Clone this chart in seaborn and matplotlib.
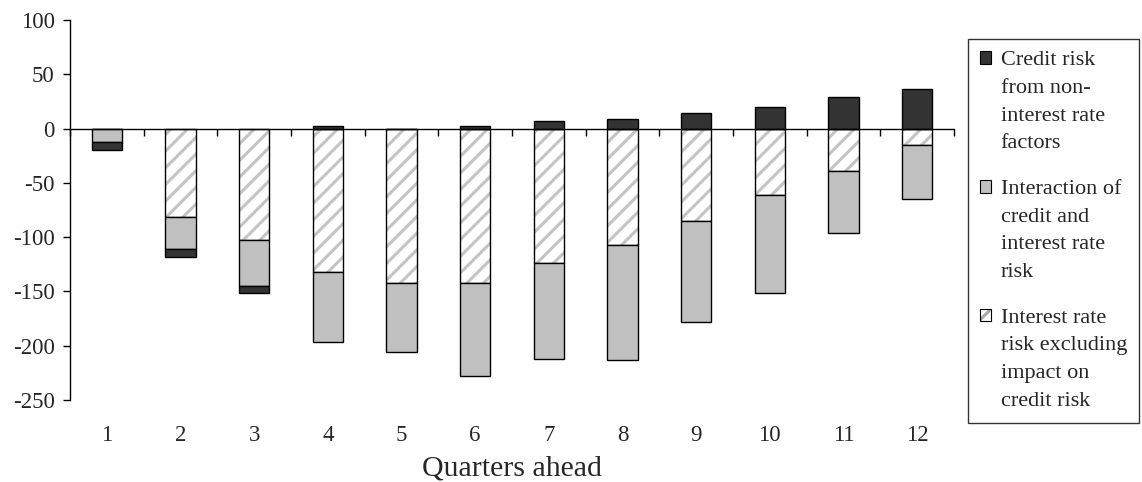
import numpy as np
import pandas as pd
import matplotlib
matplotlib.use('Agg')
import matplotlib.pyplot as plt
import seaborn as sns
from matplotlib.patches import Patch
from matplotlib.legend_handler import HandlerTuple

# values
quarters = [str(i) for i in range(1, 13)]
interest_rate = [0, -81, -103, -132, -142, -142, -123.5, -107, -85, -61, -39, -15]
interaction = [-12.5, -29.5, -42, -65, -64, -86, -88.5, -106, -93.5, -90, -57, -49.5]
credit = [-7.5, -7.5, -6, 2, 0, 2, 7, 9, 14.5, 20, 29, 36.5]

labels = ['Credit risk\nfrom non-\ninterest rate\nfactors',
          'Interaction of\ncredit and\ninterest rate\nrisk',
          'Interest rate\nrisk excluding\nimpact on\ncredit risk']

df = pd.DataFrame({'quarter': quarters, 'ir': interest_rate,
                   'inter': interaction, 'credit': credit})
ir_arr = np.array(interest_rate)
inter_bottom = ir_arr
credit_bottom = np.where(np.array(credit) >= 0, 0, ir_arr + np.array(interaction))

sns.set_style('white')
plt.rcParams['font.family'] = ['Liberation Serif', 'DejaVu Serif']
plt.rcParams['axes.unicode_minus'] = False
plt.rcParams['hatch.linewidth'] = 2.2

dark = '#333333'
grey = '#c0c0c0'
hatch_col = '#c4c4c4'
w = 0.415

fig, ax = plt.subplots(figsize=(11.42, 4.82), dpi=100)
fig.subplots_adjust(left=0.0613, right=0.8354, top=0.9585, bottom=0.1701)

# hatched interest rate part (hatch only, then black outline)
sns.barplot(x='quarter', y='ir', data=df, order=quarters, ax=ax, width=w,
            color='white', edgecolor=hatch_col, linewidth=0, hatch='//',
            saturation=1, errorbar=None)
sns.barplot(x='quarter', y='ir', data=df, order=quarters, ax=ax, width=w,
            fill=False, edgecolor='black', linewidth=1, errorbar=None)
# interaction part
sns.barplot(x='quarter', y='inter', data=df, order=quarters, ax=ax, width=w,
            color=grey, edgecolor='black', linewidth=1, bottom=inter_bottom,
            saturation=1, errorbar=None)
# credit risk part
sns.barplot(x='quarter', y='credit', data=df, order=quarters, ax=ax, width=w,
            color=dark, edgecolor='black', linewidth=1, bottom=credit_bottom,
            saturation=1, errorbar=None)

ax.set_xlim(-0.5, 11.5)
ax.set_ylim(-250, 100)
ax.set_yticks(np.arange(-250, 101, 50))
ax.tick_params(axis='y', direction='out', length=5, width=1, color='black',
               labelsize=16.5, pad=6, left=True)

# zero line with ticks between categories
ax.spines['bottom'].set_position(('data', 0))
ax.spines['top'].set_visible(False)
ax.spines['right'].set_visible(False)
for s in ['bottom', 'left']:
    ax.spines[s].set_color('black')
    ax.spines[s].set_linewidth(1)
ax.set_xticks(np.arange(-0.5, 12, 1))
ax.set_xticklabels([])
ax.tick_params(axis='x', direction='out', length=5, width=1, color='black', bottom=True)
ax.set_xlabel('')
ax.set_ylabel('')

# category labels at the bottom of the plot
sec = ax.secondary_xaxis('bottom')
sec.set_xticks(range(12), labels=quarters)
sec.tick_params(length=0, pad=18, labelsize=16.5)
sec.spines['bottom'].set_visible(False)
sec.set_xlabel('Quarters ahead', fontsize=21.5, labelpad=7)

# legend
h_credit = Patch(facecolor=dark, edgecolor='black', linewidth=0.8)
h_inter = Patch(facecolor=grey, edgecolor='black', linewidth=0.8)
h_ir = (Patch(facecolor='white', edgecolor='#a8a8a8', linewidth=0, hatch='//'),
        Patch(fill=False, edgecolor='black', linewidth=0.8))
leg = fig.legend([h_credit, h_inter, h_ir], labels, loc='upper left',
                 bbox_to_anchor=(968 / 1142, 1 - 39 / 482), borderaxespad=0,
                 fontsize=16, frameon=True, fancybox=False, edgecolor='black',
                 handlelength=0.5, handleheight=0.5, handletextpad=0.42,
                 labelspacing=1.2, borderpad=0.55,
                 handler_map={tuple: HandlerTuple(ndivide=1, pad=0)})
leg.get_frame().set_linewidth(1)
for t in leg.get_texts():
    t.set_linespacing(1.62)
# squares next to the first line of each entry
for col in leg._legend_handle_box.get_children():
    for row in col.get_children():
        row.align = 'top'

plt.savefig('out.png', dpi=100)
